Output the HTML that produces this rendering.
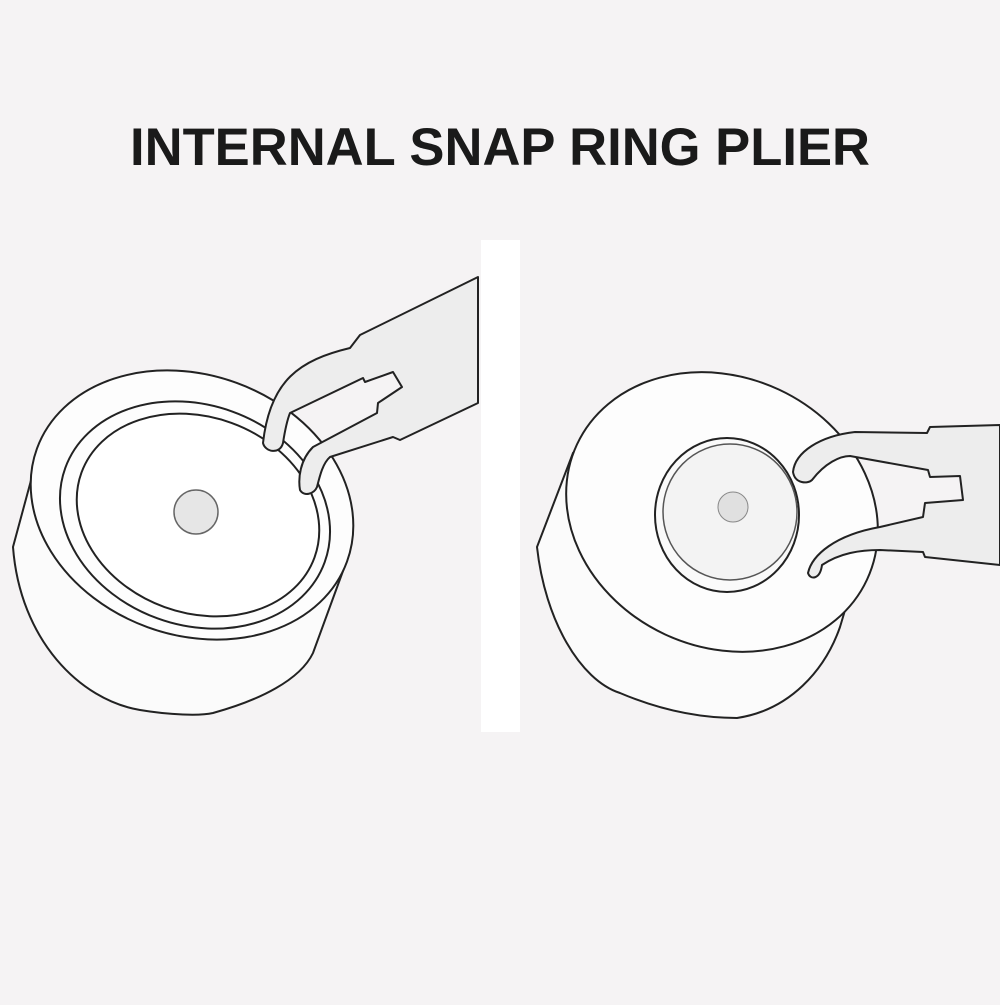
<!DOCTYPE html>
<html><head><style>html,body{margin:0;padding:0;background:#f5f3f4}</style></head>
<body>
<svg width="1000" height="1000" viewBox="0 0 1000 1000" xmlns="http://www.w3.org/2000/svg">
<rect width="1000" height="1000" fill="#f5f3f4"/>
<text x="130" y="165" font-family="Liberation Sans, sans-serif" font-weight="bold" font-size="53" fill="#1a1a1a" textLength="740" lengthAdjust="spacingAndGlyphs">INTERNAL SNAP RING PLIER</text>
<rect x="481" y="240" width="39" height="492" fill="#ffffff"/>
<g fill="#fbfbfb" stroke="#222" stroke-width="2">
<!-- left cylinder body -->
<path d="M33,473 L13,547 C20,640 80,700 140,710 C170,715 200,716 213,713 C260,700 300,680 313,653 L347,560 Z"/>
<ellipse cx="192" cy="505" rx="165" ry="130" transform="rotate(20 192 505)" fill="#fdfdfd"/>
<ellipse cx="195" cy="515" rx="138" ry="110" transform="rotate(20 195 515)" fill="#fdfdfd"/>
<ellipse cx="198" cy="515" rx="124" ry="98" transform="rotate(20 198 515)" fill="#ffffff"/>
<!-- right cylinder body -->
<path d="M573,453 L537,547 C545,620 580,680 620,693 C660,710 700,718 737,718 C790,710 825,670 840,627 L860,560 Z"/>
<ellipse cx="722" cy="512" rx="160" ry="135" transform="rotate(25 722 512)" fill="#fdfdfd"/>
<ellipse cx="727" cy="515" rx="72" ry="77" fill="#fafafa"/>
<ellipse cx="730" cy="512" rx="67" ry="68" fill="#f3f3f3" stroke="#555" stroke-width="1.5"/>
</g>
<circle cx="196" cy="512" r="22" fill="#e6e6e6" stroke="#666" stroke-width="1.5"/>
<circle cx="733" cy="507" r="15" fill="#e0e0e0" stroke="#888" stroke-width="1"/>
<g fill="#ededed" stroke="#222" stroke-width="2" stroke-linejoin="round">
<!-- left plier -->
<path d="M478,277 L360,335 L350,348 C300,360 270,380 263,443 C265,452 280,455 283,443 C285,430 288,418 290,413 L363,378 L365,382 L393,372 L402,387 L378,403 L377,413 L313,447 C300,460 298,478 300,490 C304,497 314,494 317,487 C320,475 323,463 330,457 L393,437 L400,440 L478,403 Z"/>
<!-- right plier -->
<path d="M1000,425 L930,427 L927,433 L855,432 C820,436 795,452 793,472 C795,484 808,484 812,480 C825,463 840,456 850,456 L928,470 L930,477 L960,476 L963,500 L925,503 L923,517 L880,527 C835,535 812,555 808,573 C810,580 820,580 822,565 C840,553 860,550 880,550 L923,552 L925,557 L1000,565 Z"/>
</g>
</svg>
</body></html>
